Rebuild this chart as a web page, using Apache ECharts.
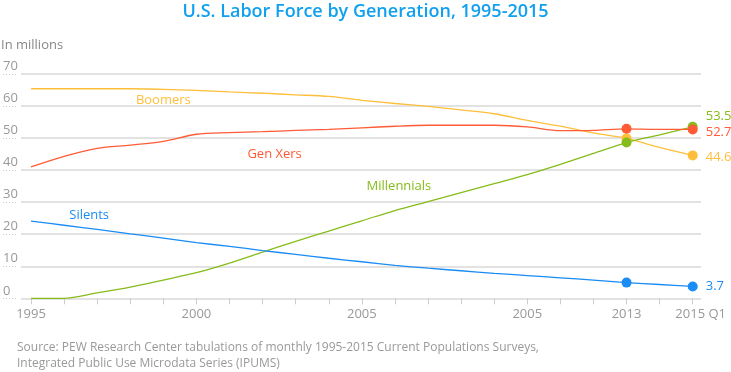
<!DOCTYPE html>
<html><head><meta charset="utf-8">
<script src="https://cdn.jsdelivr.net/npm/echarts@6/dist/echarts.min.js"></script>
<style>html,body{margin:0;padding:0;background:#fff}#c{width:731px;height:372px}</style>
</head><body><div id="c"></div>
<script>
const categories = ['1995','1996','1997','1998','1999','2000','2001','2002','2003','2004','2005','2006','2007','2008','2009','2010','2011','2012','2013','2014','2015 Q1'];
const tickLabels = {0:'1995',5:'2000',10:'2005',15:'2005',18:'2013',20:'2015 Q1'};
const boomers = [65.4,65.4,65.4,65.4,65.2,64.9,64.4,64.0,63.5,63.0,61.8,60.8,59.9,58.8,57.6,55.5,53.7,51.6,49.9,47.1,44.6];
const genXers = [41.0,44.3,46.8,47.8,49.0,51.2,51.7,52.0,52.4,52.7,53.2,53.7,54.0,54.0,54.0,53.5,52.3,52.4,52.9,52.7,52.7];
const millennials = [0,0,1.7,3.5,5.7,8.0,11.0,14.4,17.8,21.0,24.2,27.4,30.2,33.0,35.8,38.6,41.8,45.2,48.6,51.0,53.5];
const silents = [24.1,22.8,21.5,20.1,18.8,17.4,16.2,14.9,13.7,12.5,11.4,10.3,9.4,8.6,7.8,7.1,6.4,5.7,4.9,4.3,3.7];
const yTicks = [0,10,20,30,40,50,60,70];

const FONT = '"Open Sans", sans-serif';
const chart = echarts.init(document.getElementById('c'));
const markerIdx = [18, 20];
function mkSeries(name, data, color, nameLabel, endOffset) {
  const last = data.length - 1;
  return {
    name: name, type: 'line', xAxisIndex: 2, yAxisIndex: 2,
    data: data.map((v, i) => i === last ? {value: v, label: {show: true, position: 'right', distance: 8, offset: [0, endOffset], color: color, fontSize: 13, fontFamily: FONT, formatter: String(v)}} : v),
    smooth: 0.3, symbol: 'circle',
    symbolSize: (v, p) => markerIdx.indexOf(p.dataIndex) >= 0 ? 10 : 0,
    showSymbol: true, showAllSymbol: true,
    lineStyle: {color: color, width: 1.3}, itemStyle: {color: color},
    emphasis: {disabled: true}, animation: false,
    markPoint: {
      symbol: 'circle', symbolSize: 0, silent: true,
      data: [{coord: [nameLabel.i, nameLabel.v], label: {show: true, formatter: name, color: color, fontSize: 13, fontFamily: FONT, offset: [nameLabel.dx, 0], position: 'inside'}}]
    }
  };
}
const option = {
  animation: false,
  title: [
    {text: 'U.S. Labor Force by Generation, 1995-2015', left: 'center', top: 3, padding: 0, textStyle: {color: '#10A0EE', fontSize: 18, fontWeight: 600, fontFamily: FONT}},
    {text: 'In millions', left: 1, top: 39, padding: 0, textStyle: {color: '#888', fontSize: 13, fontWeight: 'normal', fontFamily: FONT}},
    {text: 'Source: PEW Research Center tabulations of monthly 1995-2015 Current Populations Surveys,\nIntegrated Public Use Microdata Series (IPUMS)', left: 17, top: 340, padding: 0, textStyle: {color: '#999', fontSize: 12, fontWeight: 'normal', fontFamily: FONT, lineHeight: 16}}
  ],
  grid: [
    {left: 21, right: 30, top: 74, bottom: 73.7},
    {left: 0, width: 18, top: 74, bottom: 73.7},
    {left: 31, right: 38.3, top: 74, bottom: 73.7}
  ],
  xAxis: [
    {gridIndex: 0, type: 'value', min: 0, max: 1, show: false},
    {gridIndex: 1, type: 'value', min: 0, max: 1, show: false},
    {gridIndex: 2, type: 'category', data: categories, boundaryGap: false,
     axisLine: {show: false},
     axisTick: {show: true, interval: 0, length: 6, lineStyle: {color: '#ccc', width: 1}},
     axisLabel: {interval: 0, margin: 9, color: '#999', fontSize: 13, fontFamily: FONT,
       rich: {last: {color: '#999', fontSize: 13, fontFamily: FONT, padding: [0, 0, 0, 16]}},
       formatter: (v, i) => i === 20 ? '{last|' + tickLabels[i] + '}' : (tickLabels[i] || '')}}
  ],
  yAxis: [
    {gridIndex: 0, type: 'value', min: 0, max: 70, interval: 10, axisLabel: {show: false}, axisLine: {show: false}, axisTick: {show: false},
     splitLine: {show: true, lineStyle: {color: '#d9d9d9', width: 1.5}}},
    {gridIndex: 1, type: 'value', min: 0, max: 70, interval: 10, axisLine: {show: false}, axisTick: {show: false},
     splitLine: {show: true, lineStyle: {color: '#ccc', width: 1, type: [1, 2]}},
     axisLabel: {inside: true, margin: 0, verticalAlign: 'bottom', align: 'left', color: '#999', fontSize: 13, fontFamily: FONT, padding: [0, 0, 1, 0],
       formatter: v => yTicks.indexOf(v) >= 0 ? String(v) : ''}},
    {gridIndex: 2, type: 'value', min: 0, max: 70, interval: 10, show: false, splitLine: {show: false}}
  ],
  series: [
    mkSeries('Boomers', boomers, '#FDBF3A', {i: 4, v: 61.8, dx: 0}, 2),
    mkSeries('Millennials', millennials, '#86BC1A', {i: 11, v: 34.9, dx: 4}, -11),
    mkSeries('Gen Xers', genXers, '#FF5B36', {i: 7, v: 44.9, dx: 12}, 3),
    mkSeries('Silents', silents, '#1A8CF5', {i: 2, v: 26.0, dx: -8}, 0)
  ]
};
chart.setOption(option);
</script></body></html>
